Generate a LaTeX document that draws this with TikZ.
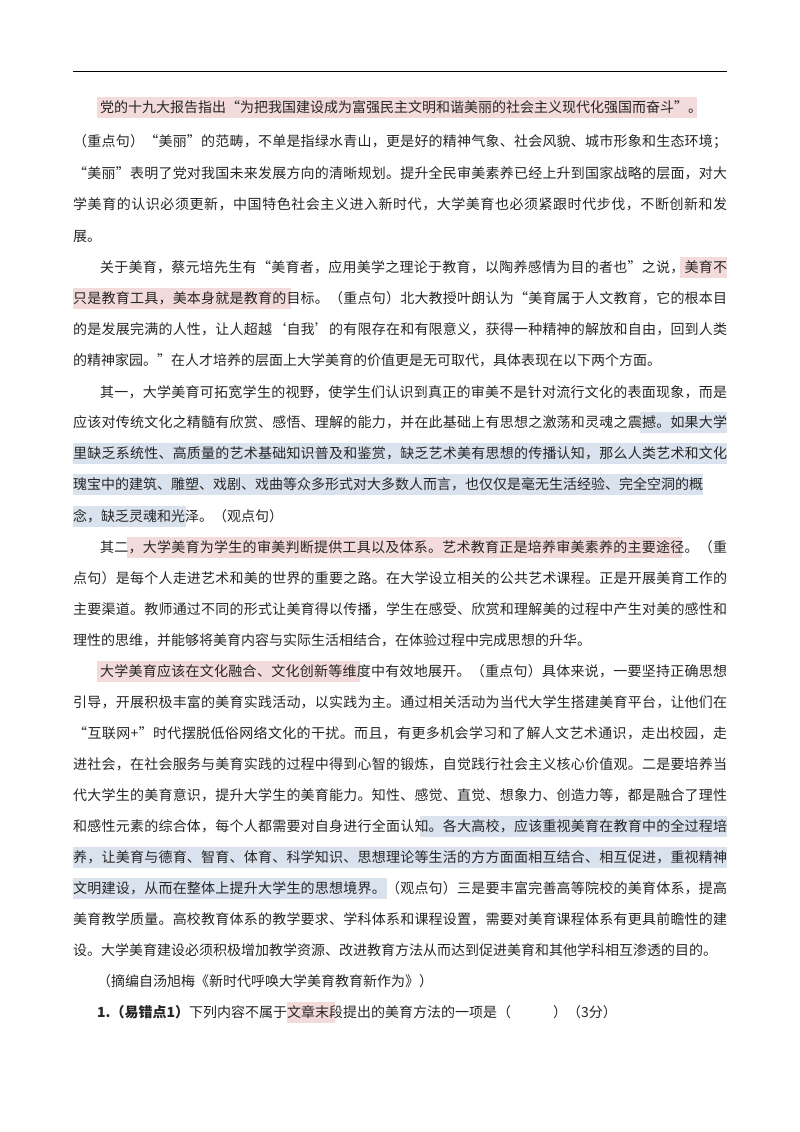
\documentclass[tikz,border=0pt]{standalone}
\usepackage{fontspec}
\setmainfont{Noto Sans CJK SC}
\XeTeXinterchartokenstate=1
\newXeTeXintercharclass\cjkc
\newcount\cc
\cc="3000 \loop \XeTeXcharclass\cc=\cjkc \advance\cc 1 \ifnum\cc<"A000 \repeat
\cc="FF00 \loop \XeTeXcharclass\cc=\cjkc \advance\cc 1 \ifnum\cc<"FFF0 \repeat
\XeTeXcharclass"201C=\cjkc \XeTeXcharclass"201D=\cjkc
\XeTeXcharclass"2018=\cjkc \XeTeXcharclass"2019=\cjkc
\XeTeXinterchartoks\cjkc\cjkc={\hskip0pt plus 1pt}
\XeTeXinterchartoks\cjkc 0={\hskip0pt plus 1pt}
\XeTeXinterchartoks 0 \cjkc={\hskip0pt plus 1pt}
\definecolor{pinkc}{HTML}{F3DADB}
\definecolor{bluec}{HTML}{DAE2EE}
\newcommand{\jline}[1]{\hbox to 654pt{#1}}
\newcommand{\iline}[1]{\hbox to 627pt{#1}}
\newcommand{\eline}[1]{\hbox to 654pt{#1\hskip0pt plus 1000fil}}
\newcommand{\ieline}[1]{\hbox to 627pt{#1\hskip0pt plus 1000fil}}
\begin{document}
\begin{tikzpicture}[x=1pt,y=-1pt,
  ln/.style={inner sep=0pt,anchor=base west,font=\fontsize{14}{14}\selectfont,text=black!85},
  hp/.style={fill=pinkc,draw=none},
  hb/.style={fill=bluec,draw=none}]
\useasboundingbox (0,0) rectangle (800,1132);
\fill[white] (0,0) rectangle (800,1132);
\coordinate (r1) at (73,72); \coordinate (r2) at (727,72);
\draw[line width=1pt] (r1) -- (r2);
% highlights
\fill[hp] (97,97) rectangle (697,118);
\fill[hp] (680,257) rectangle (727,278);
\fill[hp] (73,288) rectangle (291,309);
\fill[hb] (640,412) rectangle (727,433);
\fill[hb] (73,443) rectangle (727,464);
\fill[hb] (73,474) rectangle (703,495);
\fill[hb] (73,506) rectangle (186,527);
\fill[hp] (127,537) rectangle (682,558);
\fill[hp] (97,661) rectangle (360,682);
\fill[hb] (420,816) rectangle (727,837);
\fill[hb] (73,847) rectangle (727,868);
\fill[hb] (73,878) rectangle (387,899);
\fill[hp] (287,1002) rectangle (335,1023);
% text
\node[ln] (t1) at (100,112) {\ieline{党的十九大报告指出“为把我国建设成为富强民主文明和谐美丽的社会主义现代化强国而奋斗”。}};
\node[ln] (t2) at (73,146) {\jline{（重点句）“美丽”的范畴，不单是指绿水青山，更是好的精神气象、社会风貌、城市形象和生态环境；}};
\node[ln] (t3) at (73,178) {\jline{“美丽”表明了党对我国未来发展方向的清晰规划。提升全民审美素养已经上升到国家战略的层面，对大}};
\node[ln] (t4) at (73,209) {\jline{学美育的认识必须更新，中国特色社会主义进入新时代，大学美育也必须紧跟时代步伐，不断创新和发}};
\node[ln] (t5) at (73,241) {\eline{展。}};
\node[ln] (t6) at (100,272) {\iline{关于美育，蔡元培先生有“美育者，应用美学之理论于教育，以陶养感情为目的者也”之说，美育不}};
\node[ln] (t7) at (73,303) {\jline{只是教育工具，美本身就是教育的目标。（重点句）北大教授叶朗认为“美育属于人文教育，它的根本目}};
\node[ln] (t8) at (73,334) {\jline{的是发展完满的人性，让人超越‘自我’的有限存在和有限意义，获得一种精神的解放和自由，回到人类}};
\node[ln] (t9) at (73,365) {\eline{的精神家园。”在人才培养的层面上大学美育的价值更是无可取代，具体表现在以下两个方面。}};
\node[ln] (t10) at (100,397) {\iline{其一，大学美育可拓宽学生的视野，使学生们认识到真正的审美不是针对流行文化的表面现象，而是}};
\node[ln] (t11) at (73,427) {\jline{应该对传统文化之精髓有欣赏、感悟、理解的能力，并在此基础上有思想之激荡和灵魂之震撼。如果大学}};
\node[ln] (t12) at (73,458) {\jline{里缺乏系统性、高质量的艺术基础知识普及和鉴赏，缺乏艺术美有思想的传播认知，那么人类艺术和文化}};
\node[ln] (t13) at (73,489) {\eline{瑰宝中的建筑、雕塑、戏剧、戏曲等众多形式对大多数人而言，也仅仅是毫无生活经验、完全空洞的概}};
\node[ln] (t14) at (73,521) {\eline{念，缺乏灵魂和光泽。（观点句）}};
\node[ln] (t15) at (100,552) {\iline{其二，大学美育为学生的审美判断提供工具以及体系。艺术教育正是培养审美素养的主要途径。（重}};
\node[ln] (t16) at (73,583) {\jline{点句）是每个人走进艺术和美的世界的重要之路。在大学设立相关的公共艺术课程。正是开展美育工作的}};
\node[ln] (t17) at (73,614) {\jline{主要渠道。教师通过不同的形式让美育得以传播，学生在感受、欣赏和理解美的过程中产生对美的感性和}};
\node[ln] (t18) at (73,645) {\eline{理性的思维，并能够将美育内容与实际生活相结合，在体验过程中完成思想的升华。}};
\node[ln] (t19) at (100,676) {\iline{大学美育应该在文化融合、文化创新等维度中有效地展开。（重点句）具体来说，一要坚持正确思想}};
\node[ln] (t20) at (73,707) {\jline{引导，开展积极丰富的美育实践活动，以实践为主。通过相关活动为当代大学生搭建美育平台，让他们在}};
\node[ln] (t21) at (73,738) {\jline{“互联网+”时代摆脱低俗网络文化的干扰。而且，有更多机会学习和了解人文艺术通识，走出校园，走}};
\node[ln] (t22) at (73,769) {\jline{进社会，在社会服务与美育实践的过程中得到心智的锻炼，自觉践行社会主义核心价值观。二是要培养当}};
\node[ln] (t23) at (73,800) {\jline{代大学生的美育意识，提升大学生的美育能力。知性、感觉、直觉、想象力、创造力等，都是融合了理性}};
\node[ln] (t24) at (73,831) {\jline{和感性元素的综合体，每个人都需要对自身进行全面认知。各大高校，应该重视美育在教育中的全过程培}};
\node[ln] (t25) at (73,862) {\jline{养，让美育与德育、智育、体育、科学知识、思想理论等生活的方方面面相互结合、相互促进，重视精神}};
\node[ln] (t26) at (73,893) {\jline{文明建设，从而在整体上提升大学生的思想境界。（观点句）三是要丰富完善高等院校的美育体系，提高}};
\node[ln] (t27) at (73,924) {\jline{美育教学质量。高校教育体系的教学要求、学科体系和课程设置，需要对美育课程体系有更具前瞻性的建}};
\node[ln] (t28) at (73,955) {\eline{设。大学美育建设必须积极增加教学资源、改进教育方法从而达到促进美育和其他学科相互渗透的目的。}};
\node[ln] (t29) at (97,986) {\ieline{（摘编自汤旭梅《新时代呼唤大学美育教育新作为》）}};
\node[ln] (t30) at (97,1017) {\ieline{\bfseries 1.（易错点1）\mdseries 下列内容不属于文章末段提出的美育方法的一项是（　　　）（3分）}};
\end{tikzpicture}
\end{document}
